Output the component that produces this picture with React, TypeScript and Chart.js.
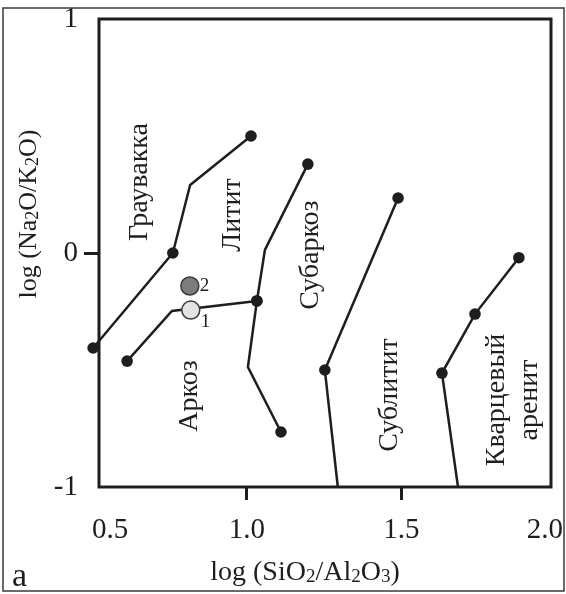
import React, { useEffect, useRef } from 'react';
import { Chart, registerables } from 'chart.js';

Chart.register(...registerables);

const FONT = "'Liberation Serif', 'Times New Roman', serif";
const INK = '#1e1e1e';

// axis ticks
const xTickValues = [0.557, 1.0, 1.5, 1.964];
const xTickLabels = ['0.5', '1.0', '1.5', '2.0'];
const xMarkedTicks = [1.0, 1.5];
const yTickValues = [-1, 0, 1];
const yTickLabels = ['-1', '0', '1'];
const yMarkedTicks = [0];

// boundary lines (x = log SiO2/Al2O3, y = log Na2O/K2O); dots: 1 = marker
const greywackeX = [0.502, 0.76, 0.816, 1.013];
const greywackeY = [-0.406, 0.0, 0.291, 0.5];
const greywackeDots = [1, 1, 0, 1];

const arkoseX = [0.612, 0.757, 1.032];
const arkoseY = [-0.462, -0.248, -0.205];
const arkoseDots = [1, 0, 1];

const lititeX = [1.197, 1.058, 1.032, 1.003, 1.11];
const lititeY = [0.38, 0.013, -0.205, -0.487, -0.765];
const lititeDots = [1, 0, 1, 0, 1];

const subarkoseX = [1.489, 1.252, 1.294];
const subarkoseY = [0.235, -0.5, -1.0];
const subarkoseDots = [1, 1, 0];

const quartzX = [1.88, 1.738, 1.631, 1.683];
const quartzY = [-0.02, -0.261, -0.513, -1.0];
const quartzDots = [1, 1, 1, 0];

const lineDots = [greywackeDots, arkoseDots, lititeDots, subarkoseDots, quartzDots];

// samples
const sampleNames = ['1', '2'];
const sampleX = [0.818, 0.815];
const sampleY = [-0.244, -0.141];
const sampleFill = ['#e4e4e4', '#7c7c7c'];

// field labels (rotated)
const fieldNames = ['Граувакка', 'Литит', 'Субаркоз', 'Аркоз', 'Сублитит', 'Кварцевый', 'аренит'];
const fieldX = [0.654, 0.955, 1.207, 0.815, 1.463, 1.809, 1.916];
const fieldY = [0.303, 0.162, -0.009, -0.611, -0.607, -0.628, -0.628];

const xTitle: [string, boolean][] = [['log (SiO', false], ['2', true], ['/Al', false], ['2', true], ['O', false], ['3', true], [')', false]];
const yTitle: [string, boolean][] = [['log (Na', false], ['2', true], ['O/K', false], ['2', true], ['O)', false]];

function zip(xs: number[], ys: number[]) {
  return xs.map((x, i) => ({ x, y: ys[i] }));
}

function lineDataset(xs: number[], ys: number[]) {
  return {
    data: zip(xs, ys),
    showLine: true,
    borderColor: INK,
    borderWidth: 2.5,
    backgroundColor: INK,
    pointRadius: 0,
    pointHoverRadius: 0,
    tension: 0,
    clip: false as any,
    order: 2,
  };
}

function drawRich(ctx: CanvasRenderingContext2D, parts: [string, boolean][], size: number) {
  const subSize = Math.round(size * 0.68);
  let total = 0;
  const widths = parts.map(([t, sub]) => {
    ctx.font = `${sub ? subSize : size}px ${FONT}`;
    const w = ctx.measureText(t).width;
    total += w;
    return w;
  });
  let x = -total / 2;
  ctx.textAlign = 'left';
  ctx.textBaseline = 'alphabetic';
  parts.forEach(([t, sub], i) => {
    ctx.font = `${sub ? subSize : size}px ${FONT}`;
    ctx.fillText(t, x, sub ? 2 : 0);
    x += widths[i];
  });
}

const decorPlugin = {
  id: 'decor',
  afterDatasetsDraw(chart: any) {
    const { ctx } = chart;
    ctx.save();
    ctx.fillStyle = INK;
    lineDots.forEach((dots, di) => {
      const meta = chart.getDatasetMeta(di);
      meta.data.forEach((el: any, j: number) => {
        if (!dots[j]) return;
        ctx.beginPath();
        ctx.arc(el.x, el.y, 5.8, 0, Math.PI * 2);
        ctx.fill();
      });
    });
    ctx.restore();
  },
  afterDraw(chart: any) {
    const { ctx, chartArea, scales } = chart;
    const xs = scales.x;
    const ys = scales.y;
    ctx.save();
    // outer frame
    ctx.strokeStyle = '#3a3a3a';
    ctx.lineWidth = 1.5;
    ctx.strokeRect(3, 8, 561, 583);
    // plot frame
    ctx.strokeStyle = INK;
    ctx.lineWidth = 3;
    ctx.strokeRect(chartArea.left, chartArea.top, chartArea.right - chartArea.left, chartArea.bottom - chartArea.top);

    ctx.fillStyle = INK;
    // field labels
    ctx.font = `28px ${FONT}`;
    ctx.textAlign = 'center';
    ctx.textBaseline = 'middle';
    fieldNames.forEach((name, i) => {
      ctx.save();
      ctx.translate(xs.getPixelForValue(fieldX[i]), ys.getPixelForValue(fieldY[i]));
      ctx.rotate(-Math.PI / 2);
      ctx.fillText(name, 0, 0);
      ctx.restore();
    });
    // sample numbers
    ctx.font = `19px ${FONT}`;
    ctx.textAlign = 'left';
    sampleNames.forEach((n, i) => {
      const px = xs.getPixelForValue(sampleX[i]);
      const py = ys.getPixelForValue(sampleY[i]);
      const dy = n === '1' ? 12 : 0;
      ctx.fillText(n, px + 10, py + dy);
    });
    // axis titles
    ctx.save();
    ctx.translate(305, 580);
    drawRich(ctx, xTitle, 28);
    ctx.restore();
    ctx.save();
    ctx.translate(36, 214);
    ctx.rotate(-Math.PI / 2);
    drawRich(ctx, yTitle, 26);
    ctx.restore();
    // panel letter
    ctx.font = `34px ${FONT}`;
    ctx.textAlign = 'left';
    ctx.textBaseline = 'alphabetic';
    ctx.fillText('a', 12, 586);
    ctx.restore();
  },
};

export default function App() {
  const ref = useRef<HTMLCanvasElement | null>(null);

  useEffect(() => {
    if (!ref.current) return;
    const chart = new Chart(ref.current, {
      type: 'scatter',
      data: {
        datasets: [
          lineDataset(greywackeX, greywackeY),
          lineDataset(arkoseX, arkoseY),
          lineDataset(lititeX, lititeY),
          lineDataset(subarkoseX, subarkoseY),
          lineDataset(quartzX, quartzY),
          {
            data: zip(sampleX, sampleY),
            showLine: false,
            pointRadius: 9,
            pointHoverRadius: 9,
            pointBackgroundColor: sampleFill,
            pointBorderColor: '#3a3a3a',
            pointBorderWidth: 1.5,
            clip: false as any,
            order: 1,
          } as any,
        ],
      },
      options: {
        responsive: false,
        animation: false,
        events: [],
        layout: { padding: { left: 0, top: 19, right: 15, bottom: 0 } },
        plugins: { legend: { display: false }, tooltip: { enabled: false }, title: { display: false } },
        scales: {
          x: {
            type: 'linear',
            min: 0.521,
            max: 1.984,
            afterBuildTicks: (s: any) => {
              s.ticks = xTickValues.map((v) => ({ value: v }));
            },
            afterFit: (s: any) => {
              s.height = 107;
              s.paddingLeft = 0;
              s.paddingRight = 0;
            },
            ticks: {
              autoSkip: false,
              maxRotation: 0,
              padding: 13,
              color: INK,
              font: { family: FONT, size: 29 },
              callback: (_v: any, i: number) => xTickLabels[i],
            },
            grid: {
              drawOnChartArea: false,
              drawTicks: true,
              tickLength: 13,
              tickWidth: 3,
              tickColor: (c: any) => (c.tick && xMarkedTicks.includes(c.tick.value) ? INK : 'rgba(0,0,0,0)'),
            },
            border: { display: false },
          },
          y: {
            type: 'linear',
            min: -1,
            max: 1,
            afterBuildTicks: (s: any) => {
              s.ticks = yTickValues.map((v) => ({ value: v }));
            },
            afterFit: (s: any) => {
              s.width = 99;
              s.paddingTop = 0;
              s.paddingBottom = 0;
            },
            ticks: {
              autoSkip: false,
              padding: 6,
              color: INK,
              font: { family: FONT, size: 29 },
              callback: (_v: any, i: number) => yTickLabels[i],
            },
            grid: {
              drawOnChartArea: false,
              drawTicks: true,
              tickLength: 15,
              tickWidth: 3,
              tickColor: (c: any) => (c.tick && yMarkedTicks.includes(c.tick.value) ? INK : 'rgba(0,0,0,0)'),
            },
            border: { display: false },
          },
        },
      },
      plugins: [decorPlugin],
    } as any);
    return () => chart.destroy();
  }, []);

  return (
    <div style={{ position: 'fixed', left: 0, top: 0, width: 566, height: 594, background: '#fff' }}>
      <canvas ref={ref} width={566} height={594} style={{ display: 'block' }} />
    </div>
  );
}
